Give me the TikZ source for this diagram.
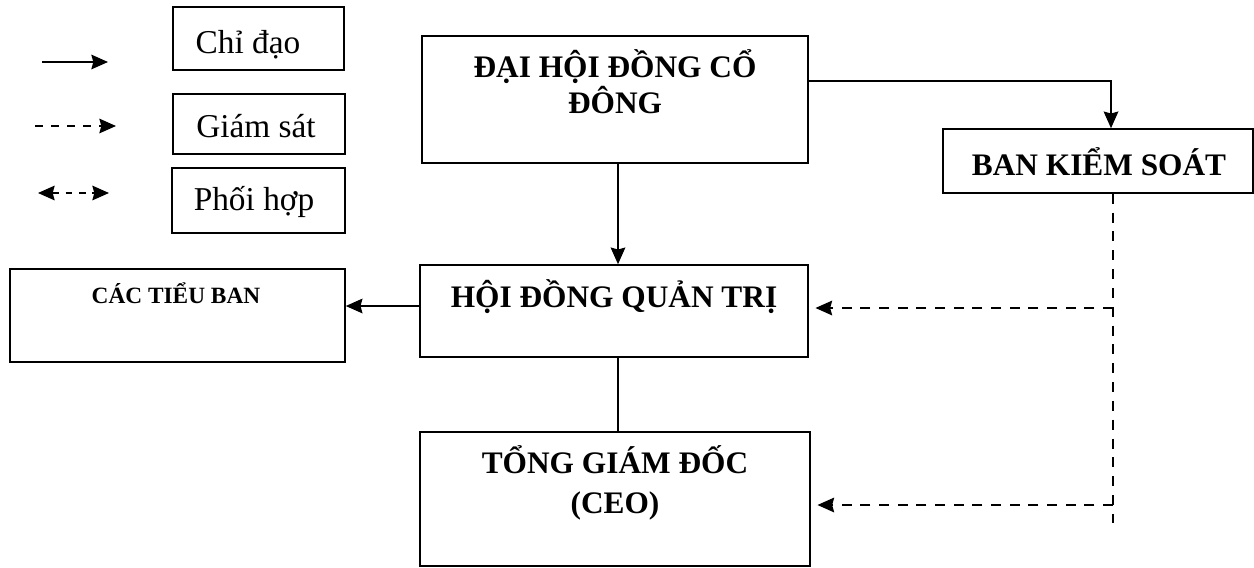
\documentclass[tikz,border=0pt]{standalone}
\usepackage{fontspec}
\setmainfont{Liberation Serif}
\usetikzlibrary{arrows.meta}
\begin{document}
\begin{tikzpicture}[x=0.75pt,y=-0.75pt,
  box/.style={draw, line width=1.2pt, rectangle, inner sep=0pt},
  bigtxt/.style={font=\fontsize{23.5}{28}\selectfont\bfseries, inner sep=0pt, anchor=base},
  smalltxt/.style={font=\fontsize{17.5}{21}\selectfont\bfseries, inner sep=0pt, anchor=base},
  legtxt/.style={font=\fontsize{25}{30}\selectfont, inner sep=0pt, anchor=base},
  conn/.style={line width=1.2pt},
  tip/.tip={Stealth[length=12.5pt,width=11pt,inset=1.5pt]},
  arr/.style={conn, -tip},
  suparr/.style={conn, dash pattern=on 7.5pt off 6.5pt, shorten >=5pt, -tip},
  supline/.style={conn, dash pattern=on 7.5pt off 6.62pt},
  legsup/.style={conn, dash pattern=on 6pt off 6pt, -tip},
  legco/.style={conn, dash pattern=on 5pt off 5pt, tip-tip}
]
\useasboundingbox (0,0) rectangle (1254,568);

% legend
\coordinate (a1s) at (42,62);  \coordinate (a1e) at (108,62);
\coordinate (a2s) at (35,126); \coordinate (a2e) at (116,126);
\coordinate (a3s) at (38,193); \coordinate (a3e) at (109,193);
\draw[arr] (a1s) -- (a1e);
\draw[legsup] (a2s) -- (a2e);
\draw[legco] (a3s) -- (a3e);

\node[box, minimum width=128.25pt, minimum height=47.25pt] (l1) at (258.5,38.5) {};
\node[box, minimum width=129pt, minimum height=45pt] (l2) at (259,124) {};
\node[box, minimum width=129.75pt, minimum height=48.75pt] (l3) at (258.5,200.5) {};
\node[legtxt] (l1t) at (248,53) {Chỉ đạo};
\node[legtxt] (l2t) at (256,137) {Giám sát};
\node[legtxt] (l3t) at (254,210) {Phối hợp};

% main boxes
\node[box, minimum width=289.5pt, minimum height=95.25pt] (dhd) at (615,99.5) {};
\node[bigtxt] (dhdA) at (615,77) {ĐẠI HỘI ĐỒNG CỔ};
\node[bigtxt] (dhdB) at (615,113) {ĐÔNG};

\node[box, minimum width=232.5pt, minimum height=48pt] (bks) at (1098,161) {};
\node[bigtxt] (bkst) at (1099,175) {BAN KIỂM SOÁT};

\node[box, minimum width=291pt, minimum height=69pt] (hdqt) at (614,311) {};
\node[bigtxt] (hdqtt) at (614,307) {HỘI ĐỒNG QUẢN TRỊ};

\node[box, minimum width=251.25pt, minimum height=69.75pt] (ctb) at (177.5,315.5) {};
\node[smalltxt] (ctbt) at (176,303) {CÁC TIỂU BAN};

\node[box, minimum width=292.5pt, minimum height=100.5pt] (tgd) at (615,499) {};
\node[bigtxt] (tgdA) at (615,473) {TỔNG GIÁM ĐỐC};
\node[bigtxt] (tgdB) at (615,513) {(CEO)};

% connectors
\coordinate (k) at (1111,81);
\draw[arr] (dhd.east |- k) -| (bks.north -| k);

\coordinate (c) at (618,0);
\draw[arr] (dhd.south -| c) -- (hdqt.north -| c);
\draw[conn] (hdqt.south -| c) -- (tgd.north -| c);

\coordinate (r) at (0,306);
\draw[arr] (hdqt.west |- r) -- (ctb.east |- r);

\coordinate (vx) at (1113,0);
\coordinate (vend) at (1113,523);
\coordinate (h1) at (1113,308);
\coordinate (h2) at (1113,505);
\draw[supline] (bks.south -| vx) -- (vend);
\draw[suparr] (h1) -- (hdqt.east |- h1);
\draw[suparr] (h2) -- (tgd.east |- h2);
\end{tikzpicture}
\end{document}
